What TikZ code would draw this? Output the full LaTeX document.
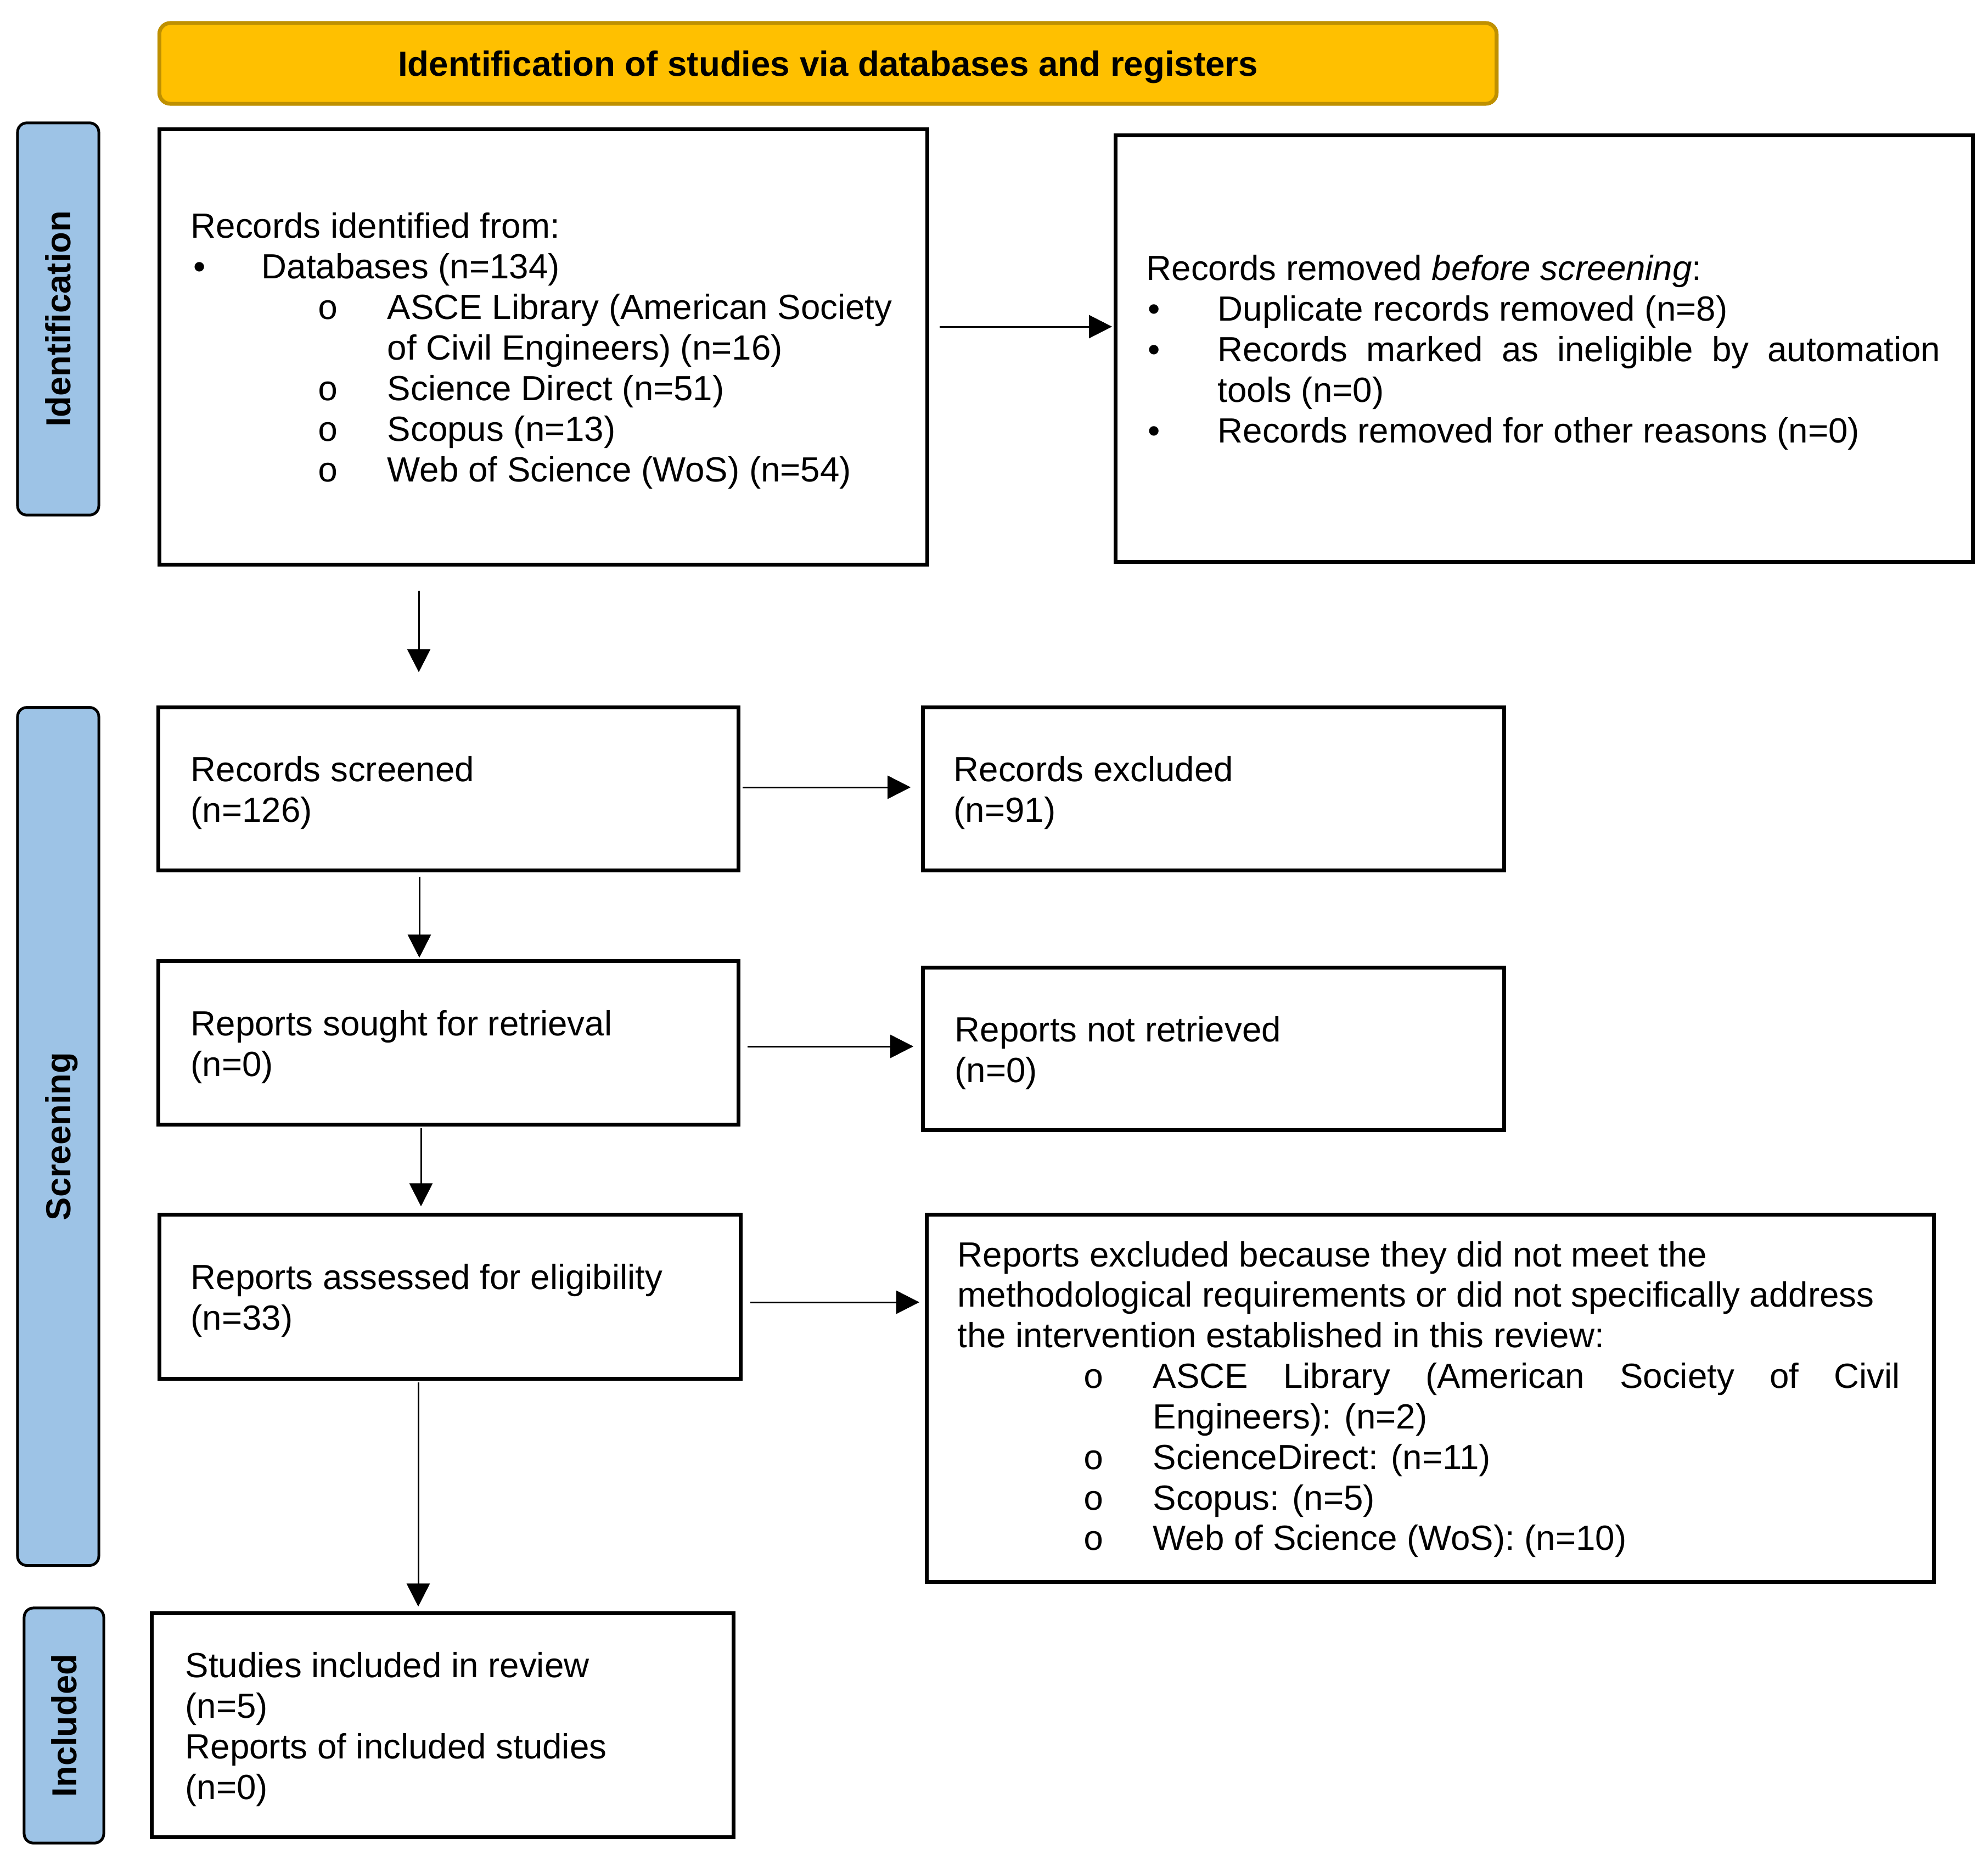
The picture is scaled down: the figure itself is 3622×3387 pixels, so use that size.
\documentclass[tikz,border=0pt]{standalone}
\usepackage{fontspec}
\setmainfont{Liberation Sans}
\newfontfamily\monofont{Liberation Mono}
\usetikzlibrary{arrows.meta}
\definecolor{bannerfill}{HTML}{FFC000}
\definecolor{bannerline}{HTML}{BF9000}
\definecolor{sidefill}{HTML}{9DC3E6}
\newcommand{\bul}{\makebox[1.24cm][l]{•}}
\newcommand{\sbul}{\makebox[1.27cm][l]{\monofont o}}
\begin{document}
\begin{tikzpicture}[x=0.01cm,y=-0.01cm,
  box/.style={draw=black, line width=0.07cm, fill=white, inner sep=0pt},
  sidebox/.style={draw=black, line width=0.05cm, fill=sidefill, rounded corners=0.17cm, rotate=90,
                  font=\fontsize{18}{21}\selectfont\bfseries, inner sep=0pt, text depth=0pt},
  banner/.style={draw=bannerline, line width=0.07cm, fill=bannerfill, rounded corners=0.2cm,
                 font=\fontsize{18.1}{21}\selectfont\bfseries, inner sep=0pt, text depth=0pt},
  txt/.style={anchor=west, align=left, inner sep=0pt, font=\fontsize{18.1}{21}\selectfont},
  arr/.style={line width=0.03cm, -{Triangle[length=0.42cm,width=0.42cm]}}]
\useasboundingbox (0,0) rectangle (3622,3387);

% banner
\node[banner, minimum width=24.35cm, minimum height=1.47cm] (ban) at (1508.5,115.5)
  {Identification of studies via databases and registers};

% side labels
\node[sidebox, minimum width=7.14cm, minimum height=1.48cm] (idlab) at (106,581) {Identification};
\node[sidebox, minimum width=15.62cm, minimum height=1.48cm] (scrlab) at (106,2070) {Screening};
\node[sidebox, minimum width=4.28cm, minimum height=1.45cm] (inclab) at (116.5,3143) {Included};

% boxes
\node[box, minimum width=13.98cm, minimum height=7.92cm] (b1) at (990,632) {};
\node[box, minimum width=15.61cm, minimum height=7.76cm] (b2) at (2813.5,635) {};
\node[box, minimum width=10.56cm, minimum height=2.96cm] (b3) at (817,1437) {};
\node[box, minimum width=10.58cm, minimum height=2.96cm] (b4) at (2211,1437) {};
\node[box, minimum width=10.56cm, minimum height=2.97cm] (b5) at (817,1899.5) {};
\node[box, minimum width=10.58cm, minimum height=2.95cm] (b6) at (2211,1910.5) {};
\node[box, minimum width=10.58cm, minimum height=2.98cm] (b7) at (820,2362) {};
\node[box, minimum width=18.34cm, minimum height=6.68cm] (b8) at (2606,2547) {};
\node[box, minimum width=10.59cm, minimum height=4.07cm] (b9) at (806.5,3142.5) {};

% texts
\node[txt] (t1) at (347,639) {Records identified from:\\
\hspace*{0.05cm}\bul Databases (n=134)\\
\hspace*{2.31cm}\sbul ASCE Library (American Society\\
\hspace*{3.58cm}of Civil Engineers) (n=16)\\
\hspace*{2.31cm}\sbul Science Direct (n=51)\\
\hspace*{2.31cm}\sbul Scopus (n=13)\\
\hspace*{2.31cm}\sbul Web of Science (WoS) (n=54)};

\node[txt] (t2) at (2088,642) {Records removed \textit{before screening}:\\
\hspace*{0.03cm}\makebox[1.27cm][l]{•}Duplicate records removed (n=8)\\
\hspace*{0.03cm}\makebox[1.27cm][l]{•}\makebox[13.16cm][s]{Records marked as ineligible by automation}\\
\hspace*{1.30cm}tools (n=0)\\
\hspace*{0.03cm}\makebox[1.27cm][l]{•}Records removed for other reasons (n=0)};

\node[txt] (t3) at (347,1444) {Records screened\\(n=126)};
\node[txt] (t4) at (1737,1444) {Records excluded\\(n=91)};
\node[txt] (t5) at (347,1907) {Reports sought for retrieval\\(n=0)};
\node[txt] (t6) at (1739,1918) {Reports not retrieved\\(n=0)};
\node[txt] (t7) at (347,2369) {Reports assessed for eligibility\\(n=33)};

\node[txt] (t8) at (1744,2549) {Reports excluded because they did not meet the\\
methodological requirements or did not specifically address\\
the intervention established in this review:\\
\hspace*{2.29cm}\makebox[1.27cm][l]{\monofont o}\makebox[13.6cm][s]{ASCE Library (American Society of Civil}\\
\hspace*{3.56cm}Engineers): (n=2)\\
\hspace*{2.29cm}\makebox[1.27cm][l]{\monofont o}ScienceDirect: (n=11)\\
\hspace*{2.29cm}\makebox[1.27cm][l]{\monofont o}Scopus: (n=5)\\
\hspace*{2.29cm}\makebox[1.27cm][l]{\monofont o}Web of Science (WoS): (n=10)};

\node[txt] (t9) at (337,3150) {Studies included in review\\(n=5)\\Reports of included studies\\(n=0)};

% connectors
\coordinate (yA) at (0,595);
\coordinate (yB) at (0,1434);
\coordinate (yC) at (0,1906);
\coordinate (yD) at (0,2372);
\coordinate (xA) at (763,0);
\coordinate (xB) at (764,0);
\coordinate (xC) at (767,0);
\coordinate (xD) at (762,0);

\draw[arr, shorten <=0.19cm, shorten >=0.03cm] (b1.east |- yA) -- (b2.west |- yA);
\draw[arr, shorten <=0.44cm, shorten >=0.61cm] (b1.south -| xA) -- (b3.north -| xA);
\draw[arr, shorten <=0.08cm, shorten >=0.03cm] (b3.south -| xB) -- (b5.north -| xB);
\draw[arr, shorten <=0.04cm, shorten >=0.19cm] (b3.east |- yB) -- (b4.west |- yB);
\draw[arr, shorten <=0.13cm, shorten >=0.14cm] (b5.east |- yC) -- (b6.west |- yC);
\draw[arr, shorten <=0.03cm, shorten >=0.12cm] (b5.south -| xC) -- (b7.north -| xC);
\draw[arr, shorten <=0.14cm, shorten >=0.10cm] (b7.east |- yD) -- (b8.west |- yD);
\draw[arr, shorten <=0.03cm, shorten >=0.09cm] (b7.south -| xD) -- (b9.north -| xD);
\end{tikzpicture}
\end{document}
